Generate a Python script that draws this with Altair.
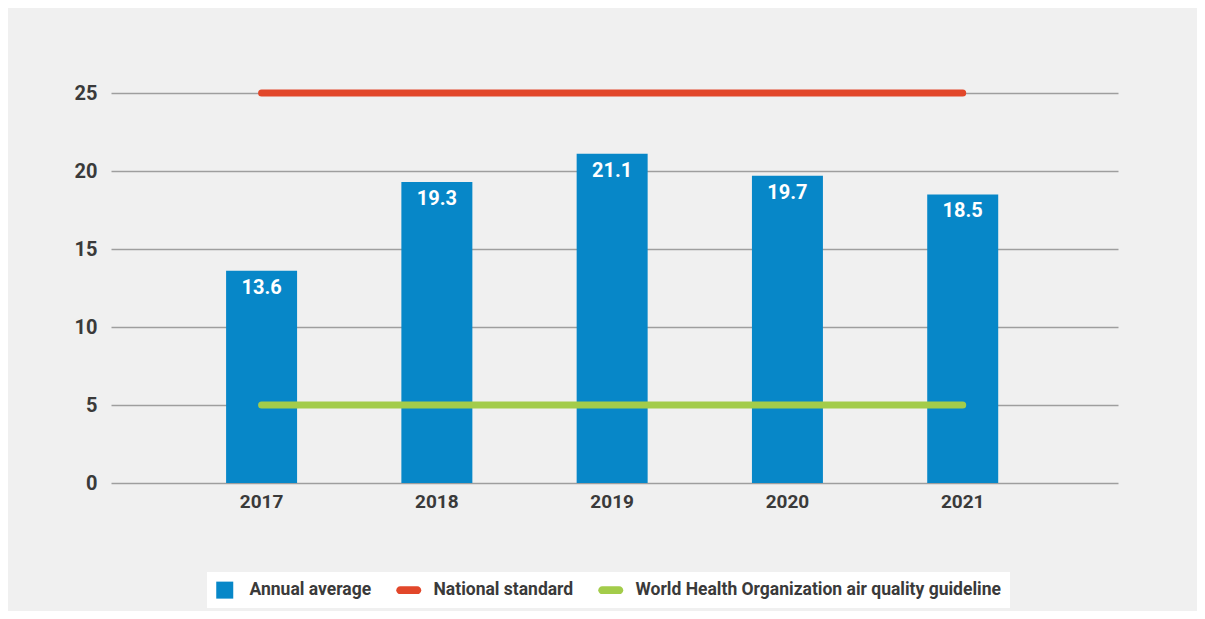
import altair as alt
import pandas as pd

years = ["2017", "2018", "2019", "2020", "2021"]
annual = [13.6, 19.3, 21.1, 19.7, 18.5]
national_standard = 25
who_guideline = 5
series = ["Annual average", "National standard", "World Health Organization air quality guideline"]
colors = ["#0787c8", "#e2472a", "#a3cc4a"]

FONT = "Roboto"
TEXT = "#3a3a3a"

bars_df = pd.DataFrame({"year": years, "value": annual})
nat_df = pd.DataFrame({"year": years, "value": [national_standard] * len(years)})
who_df = pd.DataFrame({"year": years, "value": [who_guideline] * len(years)})
legend_df = pd.DataFrame({"series": series})

x_enc = alt.X(
    "year:N",
    sort=years,
    scale=alt.Scale(paddingInner=0.595, paddingOuter=0.67, align=0.49),
    axis=alt.Axis(title=None, labelAngle=0, ticks=False, domain=False, grid=False,
                  labelPadding=9, labelFontSize=19, labelFont=FONT, labelFontWeight="bold",
                  labelColor=TEXT),
)
y_enc = alt.Y(
    "value:Q",
    scale=alt.Scale(domain=[0, 25], nice=False),
    axis=alt.Axis(title=None, values=[0, 5, 10, 15, 20, 25], ticks=False, domain=False,
                  labelPadding=14, labelFontSize=20, labelFont=FONT, labelFontWeight="bold",
                  labelColor=TEXT, gridColor="#9e9e9e", gridWidth=1.5),
)

bars = alt.Chart(bars_df).mark_bar(color=colors[0]).encode(x=x_enc, y=y_enc)

labels = alt.Chart(bars_df).mark_text(
    baseline="top", dy=7, color="white", fontSize=20, fontWeight="bold", font=FONT
).encode(x=x_enc, y=y_enc, text=alt.Text("value:Q", format=".1f"))

nat = alt.Chart(nat_df).mark_line(color=colors[1], strokeWidth=7, strokeCap="round").encode(x=x_enc, y=y_enc)
who = alt.Chart(who_df).mark_line(color=colors[2], strokeWidth=7, strokeCap="round").encode(x=x_enc, y=y_enc)

line_shape = "M-1.0,-0.47 L1.0,-0.47 A0.47,0.47 0 0 1 1.0,0.47 L-1.0,0.47 A0.47,0.47 0 0 1 -1.0,-0.47 Z"
legend_layer = alt.Chart(legend_df).mark_point(filled=True, opacity=0).encode(
    x=alt.value(0), y=alt.value(0),
    color=alt.Color("series:N", sort=series,
                    scale=alt.Scale(domain=series, range=colors),
                    legend=alt.Legend(title=None)),
    shape=alt.Shape("series:N", sort=series,
                    scale=alt.Scale(domain=series, range=["square", line_shape, line_shape]),
                    legend=alt.Legend(title=None)),
)

chart = alt.layer(bars, nat, who, labels, legend_layer).properties(
    width=1007, height=390,
    autosize=alt.AutoSizeParams(type="none"),
    padding={"left": 103, "top": 85, "right": 79, "bottom": 128},
    background="#f0f0f0",
).configure_view(stroke=None).configure_legend(
    orient="none", legendX=96, legendY=479, direction="horizontal", columns=3,
    fillColor="white", padding=9, symbolSize=289, symbolOpacity=1,
    labelFont=FONT, labelFontSize=17.5, labelFontWeight="bold", labelColor=TEXT,
    labelOffset=16, columnPadding=24, symbolStrokeWidth=0, labelLimit=1000,
)

chart.save("out.html", embed_options={"renderer": "svg", "actions": False})
